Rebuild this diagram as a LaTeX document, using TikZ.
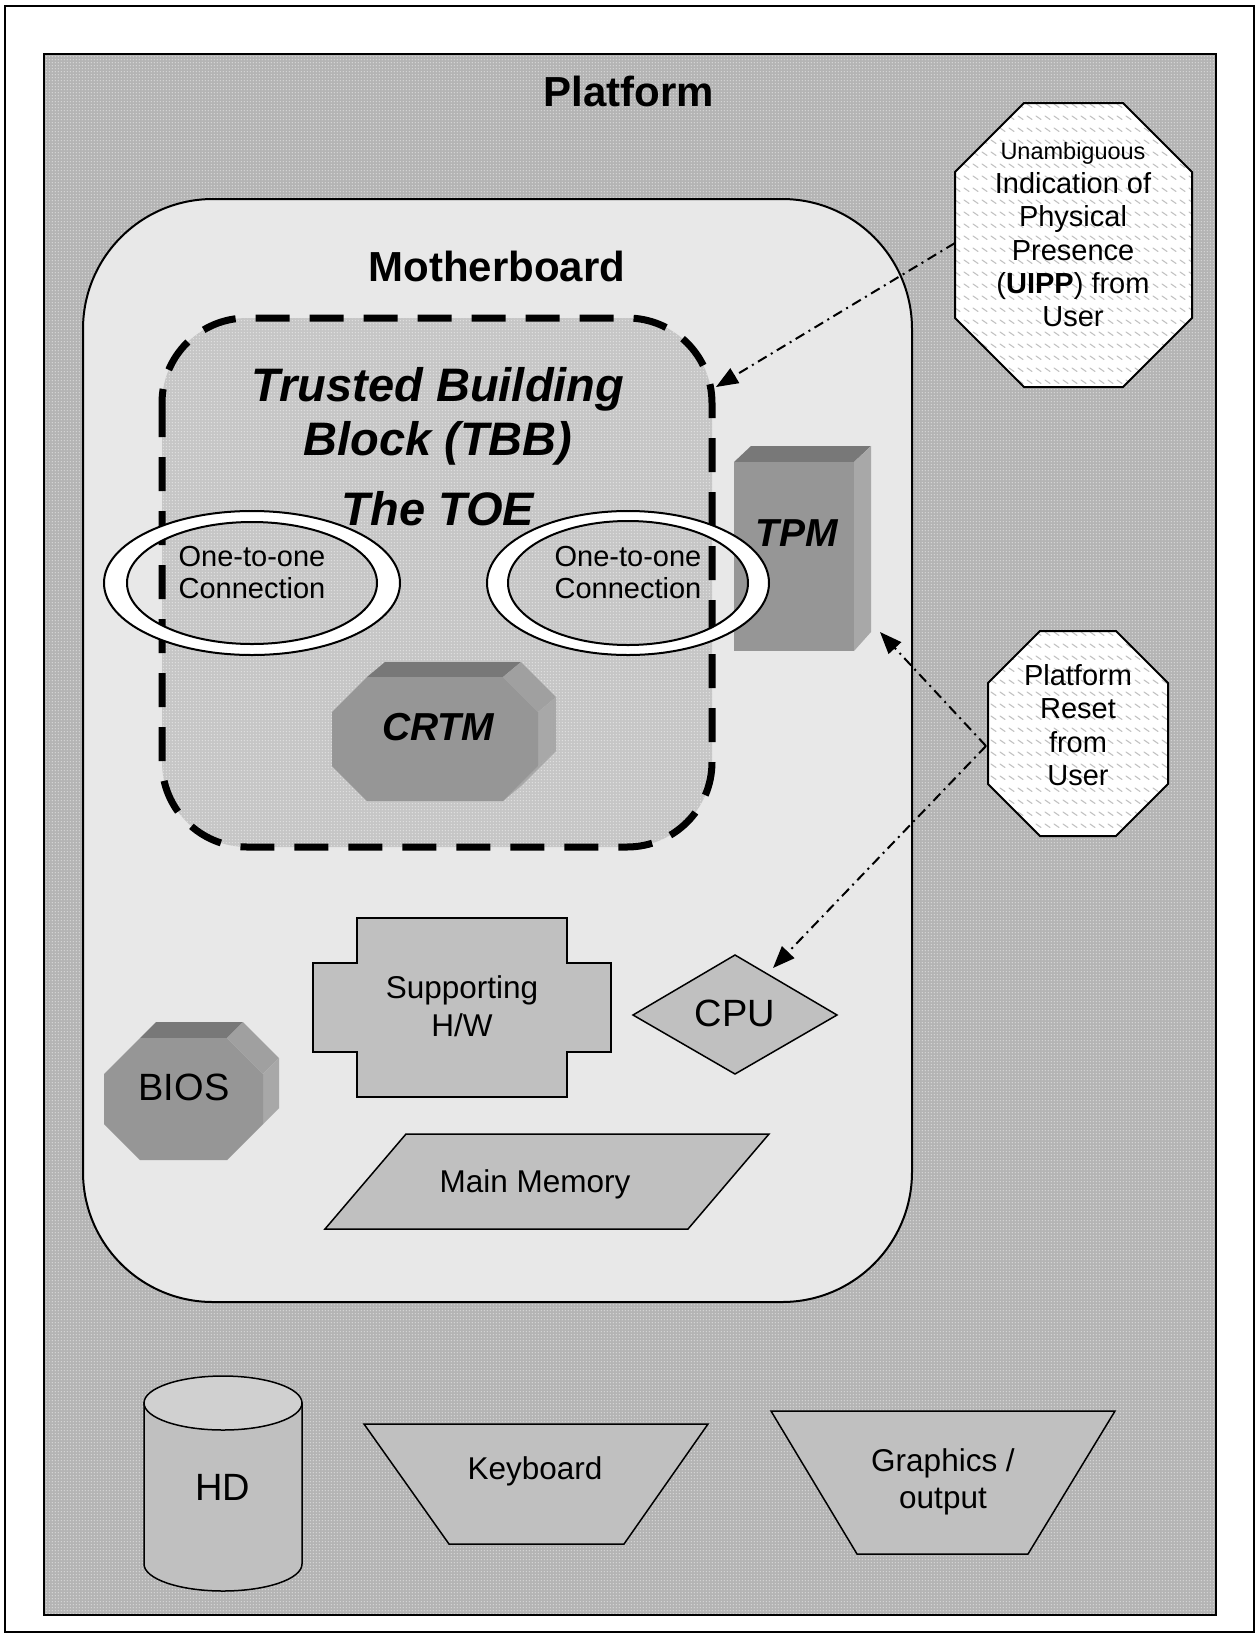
\documentclass[tikz,border=0pt]{standalone}
\usepackage{fontspec}
\setmainfont{Liberation Sans}
\usetikzlibrary{arrows.meta,patterns}

% fine stipple for the platform and TBB backgrounds
\pgfdeclarepatternformonly{stipple}{\pgfpointorigin}{\pgfqpoint{3pt}{3pt}}{\pgfqpoint{3pt}{3pt}}{%
  \pgfpathrectangle{\pgfqpoint{1pt}{1pt}}{\pgfqpoint{1pt}{1pt}}\pgfusepath{fill}}
% short diagonal dashes for the user-action octagons
\pgfdeclarepatternformonly{dashhatch}{\pgfqpoint{-1pt}{-1pt}}{\pgfqpoint{10pt}{13pt}}{\pgfqpoint{9pt}{12pt}}{%
  \pgfsetlinewidth{1.1pt}\pgfsetroundcap
  \pgfpathmoveto{\pgfqpoint{1pt}{8pt}}\pgfpathlineto{\pgfqpoint{6pt}{4.5pt}}\pgfusepath{stroke}}

\definecolor{platgray}{HTML}{B4B4B4}
\definecolor{boardgray}{HTML}{E8E8E8}
\definecolor{tbbgray}{HTML}{C6C6C6}
\definecolor{partgray}{HTML}{C0C0C0}
\definecolor{disktop}{HTML}{D0D0D0}
\definecolor{chipfront}{HTML}{969696}
\definecolor{chiptop}{HTML}{787878}
\definecolor{chipbevel}{HTML}{A0A0A0}
\definecolor{chipside}{HTML}{A8A8A8}
\definecolor{hatchgray}{HTML}{C2C2C2}

\tikzset{
  title/.style={font=\fontsize{42}{48}\selectfont\bfseries, inner sep=0pt},
  tbbtitle/.style={font=\fontsize{47}{54}\selectfont\bfseries\itshape, align=center, inner sep=0pt},
  smalltext/.style={font=\fontsize{29}{33.4}\selectfont, align=center, inner sep=0pt},
  parttext/.style={font=\fontsize{31.5}{37.5}\selectfont, align=center, inner sep=0pt},
  bigtext/.style={font=\fontsize{38}{44}\selectfont, inner sep=0pt},
  chiptext/.style={font=\fontsize{39}{44}\selectfont\bfseries\itshape, inner sep=0pt},
  part/.style={draw=black, line width=1.5pt, fill=partgray},
  chipface/.style={fill=chipfront},
  link/.style={line width=2pt, dash pattern=on 10pt off 5pt on 2pt off 5pt,
    -{Triangle[length=22pt,width=17pt]}},
  useract/.style={preaction={fill=white}, pattern=dashhatch, pattern color=hatchgray,
    draw=black, line width=2pt},
  ring/.style={fill=white, even odd rule, draw=black, line width=2pt},
}

\begin{document}
\begin{tikzpicture}[x=1pt,y=-1pt]
\useasboundingbox (0,0) rectangle (1256,1636);

% page frame and platform
\draw[line width=2pt] (5,6) rectangle (1254,1632);
\path[preaction={fill=platgray}, pattern=stipple, pattern color=white, draw=black, line width=2.5pt]
  (44,54) rectangle (1216,1615);
\node[title] (platform) at (629,91) {Platform};

% motherboard
\draw[fill=boardgray, line width=2pt, rounded corners=130pt] (83,199) rectangle (912,1302);
\node[title] (motherboard) at (497,266) {Motherboard};

% trusted building block
\path[preaction={fill=tbbgray}, pattern=stipple, pattern color=white]
  [rounded corners=85pt] (162,318) rectangle (712,847);
\draw[line width=7pt, dash pattern=on 34pt off 20pt, rounded corners=85pt] (162,318) rectangle (712,847);

% TPM box
\fill[chiptop] (734,462) -- (751,446) -- (871,446) -- (854,462) -- cycle;
\fill[chipside] (854,462) -- (871,446) -- (871,632) -- (854,651) -- cycle;
\fill[chipface] (734,462) rectangle (854,651);

% CRTM octagonal block
\fill[chiptop] (367,677) -- (503,677) -- (521,662) -- (385,662) -- cycle;
\fill[chipbevel] (503,677) -- (538,712) -- (556,697) -- (521,662) -- cycle;
\fill[chipside] (538,712) -- (538,766) -- (556,751) -- (556,697) -- cycle;
\fill[chipside] (538,766) -- (503,801) -- (521,786) -- (556,751) -- cycle;
\fill[chipface] (367,677) -- (503,677) -- (538,712) -- (538,766) -- (503,801)
  -- (367,801) -- (332,766) -- (332,712) -- cycle;

% one-to-one connection rings
\path[ring] (252,583) ellipse [x radius=148, y radius=72] (252,583) ellipse [x radius=125, y radius=61];
\path[ring] (628,583) ellipse [x radius=141, y radius=72] (628,583) ellipse [x radius=120, y radius=62];

\node[tbbtitle] (tbb) at (438,416) {Trusted Building\\Block (TBB)};
\node[tbbtitle] (toe) at (438,509) {The TOE};
\node[smalltext, font=\fontsize{29}{32}\selectfont] (conn1) at (252,573) {One-to-one\\Connection};
\node[smalltext, font=\fontsize{29}{32}\selectfont] (conn2) at (628,573) {One-to-one\\Connection};
\node[chiptext] (tpm) at (797,533) {TPM};
\node[chiptext] (crtm) at (438,727) {CRTM};

% BIOS octagonal block
\fill[chiptop] (140,1038) -- (227,1038) -- (243,1022) -- (156,1022) -- cycle;
\fill[chipbevel] (227,1038) -- (263,1074) -- (279,1058) -- (243,1022) -- cycle;
\fill[chipside] (263,1074) -- (263,1124) -- (279,1108) -- (279,1058) -- cycle;
\fill[chipside] (263,1124) -- (227,1160) -- (243,1144) -- (279,1108) -- cycle;
\fill[chipface] (140,1038) -- (227,1038) -- (263,1074) -- (263,1124) -- (227,1160)
  -- (140,1160) -- (104,1124) -- (104,1074) -- cycle;
\node[bigtext] (bios) at (184,1087) {BIOS};

% supporting hardware, CPU and memory
\path[part] (357,918) -- (567,918) -- (567,963) -- (611,963) -- (611,1052) -- (567,1052)
  -- (567,1097) -- (357,1097) -- (357,1052) -- (313,1052) -- (313,963) -- (357,963) -- cycle;
\node[parttext] (shw) at (462,1006) {Supporting\\H/W};
\path[part] (633,1015) -- (735,955) -- (837,1015) -- (735,1074) -- cycle;
\node[bigtext] (cpu) at (735,1013) {CPU};
\path[part] (406,1134) -- (769,1134) -- (688,1229) -- (325,1229) -- cycle;
\node[parttext] (mem) at (535,1184) {Main Memory};

% peripherals
\path[part] (144,1403) -- (144,1564) arc[start angle=180, end angle=0, x radius=79, y radius=27]
  -- (302,1403) -- cycle;
\path[part, fill=disktop] (223,1403) ellipse [x radius=79, y radius=27];
\node[bigtext] (hd) at (223,1487) {HD};
\path[part] (364,1424) -- (708,1424) -- (624,1544) -- (449,1544) -- cycle;
\node[parttext] (kbd) at (535,1471) {Keyboard};
\path[part] (771,1411) -- (1115,1411) -- (1028,1554) -- (857,1554) -- cycle;
\node[parttext] (gfx) at (943,1482) {Graphics /\\output};

% user actions
\path[useract] (1024,103) -- (1123,103) -- (1192,172) -- (1192,318) -- (1123,387)
  -- (1024,387) -- (955,318) -- (955,172) -- cycle;
\node[smalltext] (uipp) at (1073,235) {{\fontsize{23.5}{33.4}\selectfont Unambiguous}\\Indication of\\Physical\\Presence\\(\textbf{UIPP}) from\\User};
\path[useract] (1040,631) -- (1116,631) -- (1168,683) -- (1168,784) -- (1116,836)
  -- (1040,836) -- (988,784) -- (988,683) -- cycle;
\node[smalltext] (reset) at (1078,725) {Platform\\Reset\\from\\User};

% connectors
\coordinate (uipp-w) at (955,243);
\coordinate (tbb-ne) at (716,387);
\coordinate (reset-w) at (986,746);
\coordinate (tpm-se) at (880,632);
\coordinate (cpu-ne) at (773,968);
\draw[link] (uipp-w) -- (tbb-ne);
\draw[link] (reset-w) -- (tpm-se);
\draw[link] (reset-w) -- (cpu-ne);
\end{tikzpicture}
\end{document}
